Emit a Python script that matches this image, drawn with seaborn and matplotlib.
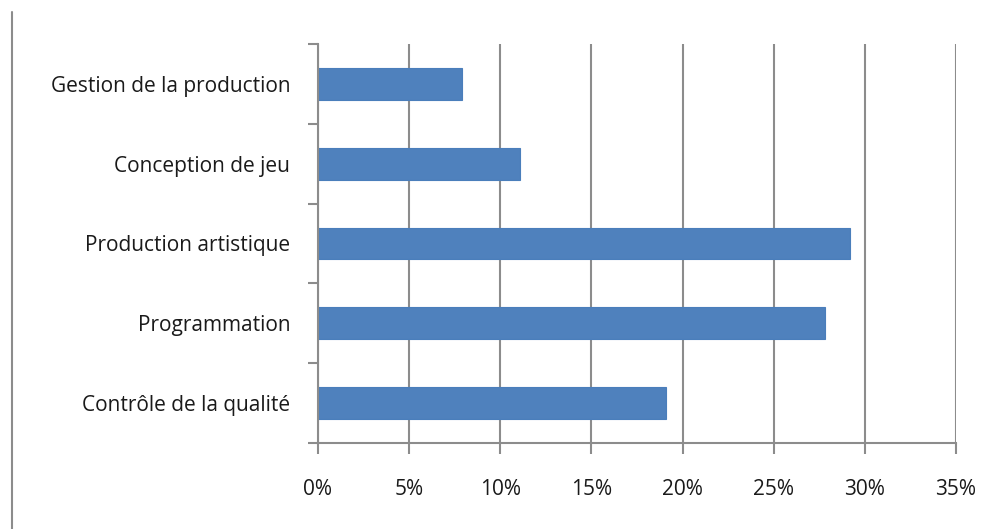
import matplotlib
matplotlib.use("Agg")
import matplotlib.pyplot as plt
import seaborn as sns
import pandas as pd
import numpy as np
from matplotlib.lines import Line2D
from matplotlib.ticker import FixedLocator

categories = ["Gestion de la production", "Conception de jeu", "Production artistique",
              "Programmation", "Contrôle de la qualité"]
values = [7.9, 11.1, 29.2, 27.8, 19.1]
xticks = [0, 5, 10, 15, 20, 25, 30, 35]
xtick_labels = ["0%", "5%", "10%", "15%", "20%", "25%", "30%", "35%"]

df = pd.DataFrame({"cat": categories, "val": values})

sns.set_theme(style="white")
plt.rcParams['font.family'] = ['Open Sans', 'DejaVu Sans']

fig = plt.figure(figsize=(9.99, 5.29), dpi=100)
ax = fig.add_axes([318/999, 1-443/529, (956-318)/999, (443-44)/529])

sns.barplot(data=df, x="val", y="cat", orient="h", color="#4F81BD", width=0.4,
            saturation=1, ax=ax, edgecolor="#4A7EBB", linewidth=0.8)

ax.set_xlim(0, 35)
ax.set_ylim(4.5, -0.5)
ax.set_xticks(xticks)
ax.set_xticklabels(xtick_labels, fontsize=15, color="#1a1a1a")
ax.set_xlabel("")
ax.set_ylabel("")
ax.xaxis.grid(True, color="#8C8C8C", linewidth=1.5)
ax.set_axisbelow(True)

ax.tick_params(axis="y", which="major", length=0, pad=20, labelsize=15, labelcolor="#1a1a1a")
ax.yaxis.set_minor_locator(FixedLocator(np.arange(-0.5, 5, 1)))
ax.tick_params(axis="y", which="minor", length=7, width=1.5, color="#8C8C8C", direction="out", left=True)
ax.tick_params(axis="x", which="major", length=8, width=1.5, color="#8C8C8C", direction="out", bottom=True, pad=18)

for s in ["top", "right"]:
    ax.spines[s].set_visible(False)
for s in ["left", "bottom"]:
    ax.spines[s].set_color("#8C8C8C")
    ax.spines[s].set_linewidth(1.5)

fig.add_artist(Line2D([12/999, 12/999], [0, 1-12/529], color="#8C8C8C", linewidth=1.5))

fig.savefig("out.png", dpi=100, facecolor="white")
